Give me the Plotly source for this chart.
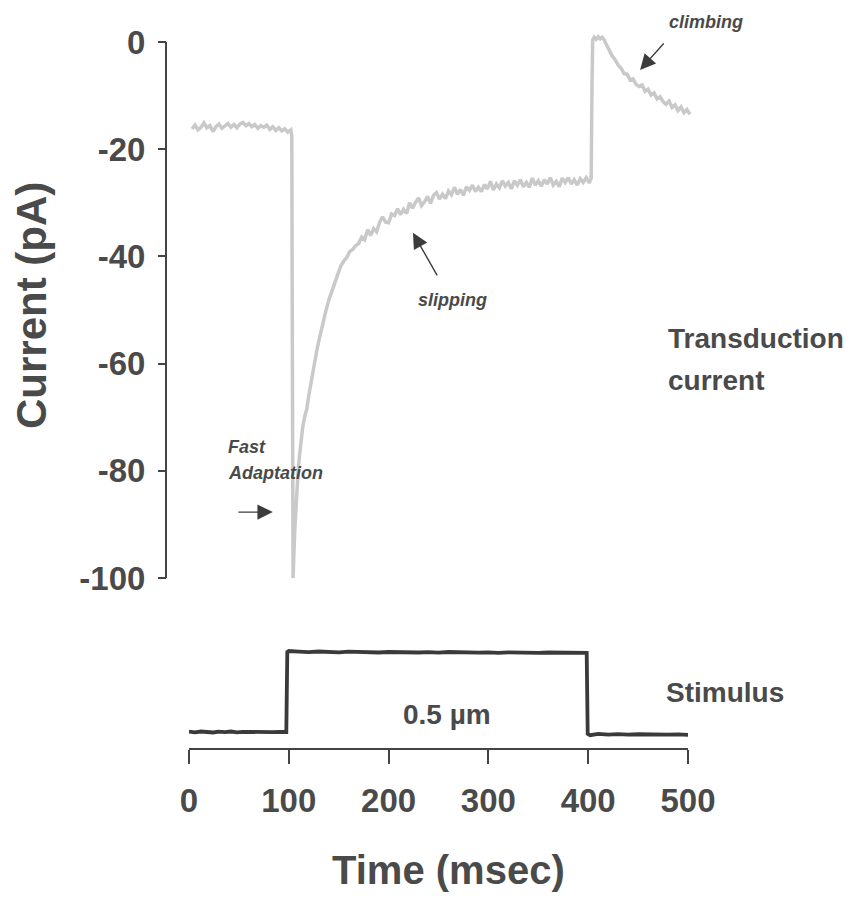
import plotly.graph_objects as go

# ---- transduction current (pA) vs time (ms) ----
baseline_t = [3, 6, 9, 12, 15, 18, 21, 24, 27, 30, 33, 36, 39, 42, 45, 48, 51,
              54, 57, 60, 63, 66, 69, 72, 75, 78, 81, 84, 87, 90, 93, 96, 99, 102]
baseline_i = [-16.2, -15.5, -16.4, -15.9, -15.1, -16.0, -15.6, -16.7, -15.8, -15.3,
              -16.1, -15.7, -15.2, -15.9, -15.4, -16.0, -15.3, -15.0, -15.6, -15.2,
              -15.8, -15.4, -16.1, -15.6, -15.9, -15.5, -16.3, -15.8, -16.5, -16.0,
              -16.6, -16.2, -16.8, -16.4]

onset_t = [103, 103.6, 104.3, 105, 106, 107, 108, 109.5, 111, 112.5, 114, 116, 118,
           120, 122, 124, 126, 128, 131, 134, 137, 140, 143, 146, 149, 152, 155,
           158, 161, 164, 167, 170]
onset_i = [-17.5, -60.0, -100.0, -96.0, -91.0, -87.0, -83.5, -79.5, -76.7, -74.0,
           -71.8, -69.8, -68.5, -66.0, -63.8, -61.8, -59.5, -57.6, -55.0, -52.4,
           -50.3, -48.2, -46.5, -44.8, -43.3, -41.8, -40.9, -40.2, -39.1, -38.7,
           -38.0, -37.6]

slip_t = [173, 176, 179, 182, 185, 188, 191, 194, 197, 200, 203, 206, 209, 212, 215,
          218, 221, 224, 227, 230, 233, 236, 239, 242, 245, 248, 251, 254, 257, 260,
          263, 266, 269, 272, 275, 278, 281, 284, 287, 290, 293, 296, 299, 302, 305,
          308, 311, 314, 317, 320, 323, 326, 329, 332, 335, 338, 341, 344, 347, 350,
          353, 356, 359, 362, 365, 368, 371, 374, 377, 380, 383, 386, 389, 392, 395,
          398, 401]
slip_i = [-36.4, -36.9, -35.0, -36.1, -34.8, -35.4, -33.6, -32.6, -33.6, -33.7,
          -32.1, -32.4, -31.1, -32.2, -31.2, -32.0, -30.0, -31.0, -29.9, -29.1,
          -30.5, -29.8, -28.8, -30.1, -28.6, -28.1, -29.3, -28.4, -29.2, -27.8,
          -28.5, -27.1, -28.4, -27.5, -28.6, -27.0, -27.7, -26.7, -27.9, -27.1,
          -27.9, -26.6, -27.4, -26.0, -27.6, -26.5, -27.2, -25.9, -26.9, -26.2,
          -27.4, -25.9, -26.7, -25.7, -27.0, -26.2, -27.1, -25.4, -26.7, -25.9,
          -26.9, -25.7, -26.5, -25.3, -26.7, -26.0, -27.0, -25.4, -26.2, -25.3,
          -26.5, -25.7, -26.7, -25.5, -26.2, -25.3, -26.3]

offset_t = [403, 403.8, 404.5, 406, 408, 410, 412, 414, 416, 418, 421, 424, 427, 430,
            433, 436, 439, 442, 445, 448, 451, 454, 457, 460, 463, 466, 469, 472, 475,
            478, 481, 484, 487, 490, 493, 496, 499, 502]
offset_i = [-25.4, -8.0, 0.4, 0.9, 0.5, 1.0, 0.6, 0.9, 0.4, -0.4, -1.6, -2.6, -3.3,
            -4.3, -4.9, -5.9, -6.0, -7.1, -6.9, -7.9, -8.3, -8.0, -9.2, -8.8, -9.9,
            -9.5, -10.6, -10.2, -11.1, -11.6, -11.0, -12.2, -11.7, -12.8, -12.1,
            -13.2, -12.6, -13.5]

current_t = baseline_t + onset_t + slip_t + offset_t
current_i = baseline_i + onset_i + slip_i + offset_i

# ---- stimulus displacement (um) vs time (ms) ----
stim_t = [0, 6, 12, 18, 24, 30, 36, 42, 48, 54, 60, 66, 72, 78, 84, 90, 97.5,
          98.5, 100, 110, 120, 130, 140, 150, 160, 170, 180, 190, 200, 210, 220, 230,
          240, 250, 260, 270, 280, 290, 300, 310, 320, 330, 340, 350, 360, 370, 380,
          390, 398.5, 399.5, 402, 410, 420, 430, 440, 450, 460, 470, 480, 490, 500]
stim_um = [0.002, -0.002, 0.003, 0.000, -0.003, 0.002, -0.001, 0.003, -0.002, 0.001,
           0.000, 0.003, -0.002, 0.002, -0.001, 0.001, 0.000,
           0.500, 0.506, 0.502, 0.499, 0.503, 0.500, 0.498, 0.502, 0.499, 0.501, 0.497,
           0.500, 0.498, 0.501, 0.497, 0.499, 0.496, 0.500, 0.497, 0.499, 0.496, 0.498,
           0.495, 0.498, 0.496, 0.497, 0.494, 0.497, 0.495, 0.496, 0.494,
           0.494, -0.012, -0.020, -0.012, -0.016, -0.013, -0.017, -0.014, -0.016,
           -0.013, -0.017, -0.015, -0.018]

y_ticks = [0, -20, -40, -60, -80, -100]
x_ticks = [0, 100, 200, 300, 400, 500]

W, H = 855, 900
FONT = "Liberation Sans, Arial, Helvetica, sans-serif"
INK = "#4a4a4a"


def px(x):
    return x / W


def py(y):
    return 1 - y / H


fig = go.Figure()
fig.add_trace(go.Scatter(x=current_t, y=current_i, mode="lines",
                         line=dict(color="#c9c9c9", width=3.5),
                         xaxis="x", yaxis="y", hoverinfo="skip"))
fig.add_trace(go.Scatter(x=stim_t, y=stim_um, mode="lines",
                         line=dict(color="#3a3a3a", width=3.8),
                         xaxis="x2", yaxis="y2", hoverinfo="skip"))

annotations = [
    dict(text="Current (pA)", x=px(31), y=py(306), xref="paper", yref="paper",
         textangle=-90, showarrow=False, xanchor="center", yanchor="middle",
         font=dict(size=42, color=INK, family=FONT, weight="bold")),
    dict(text="Time (msec)", x=px(448), y=py(870), xref="paper", yref="paper",
         showarrow=False, xanchor="center", yanchor="middle",
         font=dict(size=40, color=INK, family=FONT, weight="bold")),
    dict(text="Transduction", x=px(666), y=py(338), xref="paper", yref="paper",
         showarrow=False, xanchor="left", yanchor="middle",
         font=dict(size=28, color=INK, family=FONT, weight="bold")),
    dict(text="current", x=px(666), y=py(380), xref="paper", yref="paper",
         showarrow=False, xanchor="left", yanchor="middle",
         font=dict(size=28, color=INK, family=FONT, weight="bold")),
    dict(text="Stimulus", x=px(664), y=py(692), xref="paper", yref="paper",
         showarrow=False, xanchor="left", yanchor="middle",
         font=dict(size=28, color=INK, family=FONT, weight="bold")),
    dict(text="0.5 µm", x=px(447), y=py(714), xref="paper", yref="paper",
         showarrow=False, xanchor="center", yanchor="middle",
         font=dict(size=28, color=INK, family=FONT, weight="bold")),
    dict(text="climbing", x=px(706), y=py(22), xref="paper", yref="paper",
         showarrow=False, xanchor="center", yanchor="middle",
         font=dict(size=18, color=INK, family=FONT, weight="bold", style="italic")),
    dict(text="slipping", x=px(452), y=py(300), xref="paper", yref="paper",
         showarrow=False, xanchor="center", yanchor="middle",
         font=dict(size=18, color=INK, family=FONT, weight="bold", style="italic")),
    dict(text="Fast", x=px(226), y=py(447), xref="paper", yref="paper",
         showarrow=False, xanchor="left", yanchor="middle",
         font=dict(size=18, color=INK, family=FONT, weight="bold", style="italic")),
    dict(text="Adaptation", x=px(226), y=py(473), xref="paper", yref="paper",
         showarrow=False, xanchor="left", yanchor="middle",
         font=dict(size=18, color=INK, family=FONT, weight="bold", style="italic")),
]

# pointer arrows (tip -> x,y ; tail -> ax,ay), in current-panel data units
for tip, tail in [((84, -87.7), (48, -87.7)),
                  ((224.4, -35.6), (249.5, -43.8)),
                  ((452, -5.2), (477, 0.0))]:
    annotations.append(dict(text="", x=tip[0], y=tip[1], xref="x", yref="y",
                            ax=tail[0], ay=tail[1], axref="x", ayref="y",
                            showarrow=True, arrowhead=2, arrowsize=2.2,
                            arrowwidth=1.4, arrowcolor="#3c3c3c", standoff=0))

# left spine of the current panel, from 0 down to -100 pA
shapes = [dict(type="line", xref="paper", yref="y", x0=px(166), x1=px(166),
               y0=-100, y1=0, line=dict(color="#444444", width=2))]

fig.update_layout(
    width=W, height=H, autosize=False,
    margin=dict(l=0, r=0, t=0, b=0, autoexpand=False),
    paper_bgcolor="white", plot_bgcolor="white",
    showlegend=False,
    xaxis=dict(domain=[px(189), px(189 + 506 * 0.998)], range=[0, 506],
               visible=False, anchor="y", automargin=False),
    yaxis=dict(domain=[py(580.7), py(31.3)], range=[-100.5, 2],
               anchor="free", position=px(166), showline=False,
               showgrid=False, zeroline=False, automargin=False,
               ticks="outside", ticklen=8, tickwidth=2, tickcolor="#444444",
               tickvals=y_ticks, ticktext=[str(v) for v in y_ticks],
               ticklabelstandoff=6,
               tickfont=dict(size=33, color=INK, family=FONT, weight="bold")),
    xaxis2=dict(domain=[px(189), px(688)], range=[0, 500], anchor="y2",
                showline=True, linecolor="#444444", linewidth=2,
                showgrid=False, zeroline=False, automargin=False,
                ticks="outside", ticklen=14, tickwidth=2, tickcolor="#444444",
                tickvals=x_ticks, ticktext=[str(v) for v in x_ticks],
                ticklabelstandoff=8,
                tickfont=dict(size=33, color=INK, family=FONT, weight="bold")),
    yaxis2=dict(domain=[py(748), py(640)], range=[-0.1, 0.575], visible=False,
                automargin=False),
    annotations=annotations,
    shapes=shapes,
)

fig.write_html("out.html")
